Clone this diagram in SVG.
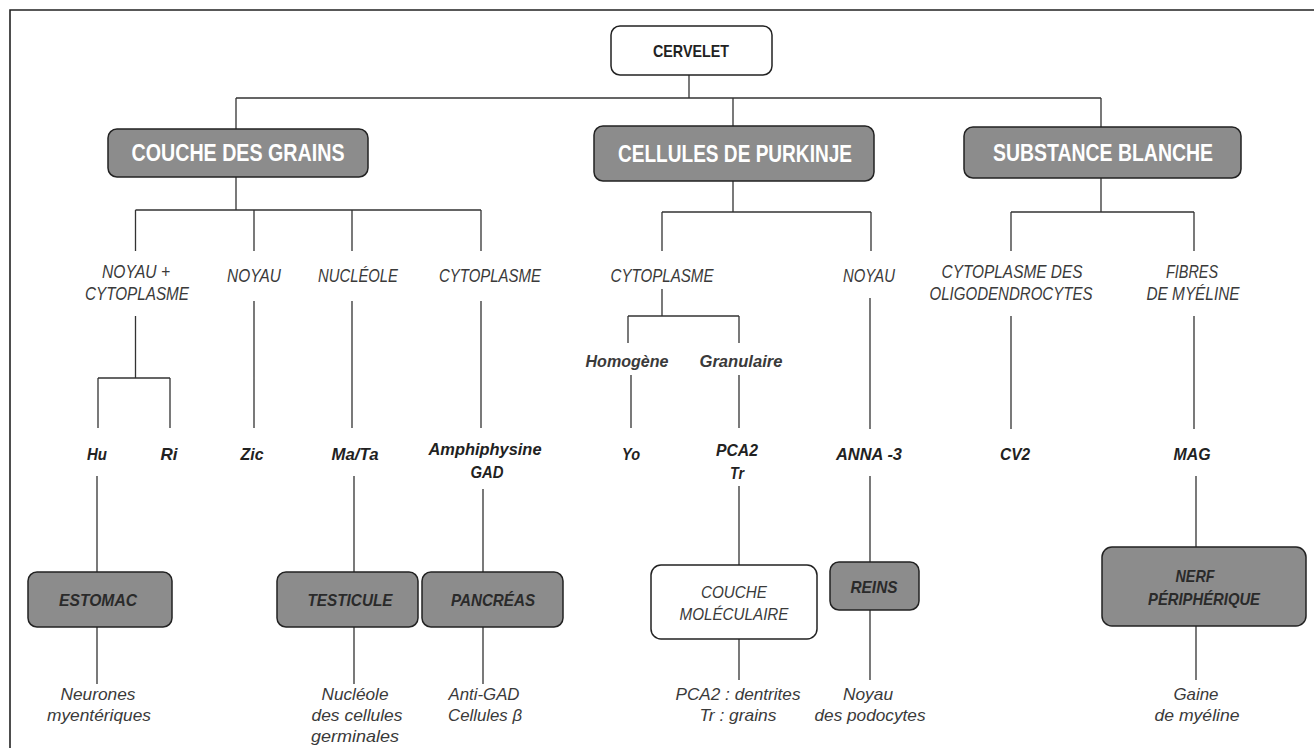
<svg xmlns="http://www.w3.org/2000/svg" width="1314" height="748" viewBox="0 0 1314 748">
<style>
text{font-family:"Liberation Sans",Arial,sans-serif;text-anchor:middle}
.frame{stroke:#222;stroke-width:1.6;fill:none}
.conn path{stroke:#333;stroke-width:1.3;fill:none}
.bw{fill:#fff;stroke:#222;stroke-width:1.5}
.bg{fill:#8c8c8c;stroke:#222;stroke-width:1.5}
.hdr{font-weight:bold;fill:#fff;font-size:23px}
.root{font-weight:bold;fill:#222;font-size:17px}
.lab{font-style:italic;fill:#3a3a3a;font-size:18px}
.ab{font-style:italic;font-weight:bold;fill:#222;font-size:17px}
.sub{font-style:italic;font-weight:bold;fill:#3a3a3a;font-size:17px}
.org{font-style:italic;font-weight:bold;fill:#2a2a2a;font-size:17px}
.inw{font-style:italic;fill:#3a3a3a;font-size:17px}
.fin{font-style:italic;fill:#3a3a3a;font-size:17px}
</style>
<path class="frame" d="M10 748 V10 H1314"/>
<g class="conn">
<path d="M689 75 V98 M236 98 H1101 M236 98 V129 M733 98 V126 M1101 98 V127"/>
<path d="M236 177 V210 M135.5 210 H481 M135.5 210 V251 M254 210 V251 M352 210 V251 M481 210 V251"/>
<path d="M135.5 316 V378 M98 378 H170 M98 378 V428 M170 378 V428 M254 301 V428 M352 301 V428 M481 301 V428"/>
<path d="M733 181 V212 M662 212 H871 M662 212 V251 M871 212 V251"/>
<path d="M662 289 V316 M628 316 H739 M628 316 V343 M739 316 V343 M631 375 V428 M739 375 V428 M870 298 V429"/>
<path d="M1101 178 V212 M1011 212 H1194 M1011 212 V251 M1194 212 V251 M1011 316 V429 M1194 316 V429"/>
<path d="M97 476 V572 M354 476 V572 M483 489 V572 M739 486 V565 M870 476 V562 M1196 476 V547"/>
<path d="M97 627 V684 M354 627 V684 M483 627 V684 M739 639 V680 M870 610 V680 M1196 626 V680"/>
</g>
<g id="cervelet"><rect class="bw" x="611" y="26" width="161" height="49" rx="9"/><text class="root" x="691" y="57" textLength="76" lengthAdjust="spacingAndGlyphs">CERVELET</text></g>
<g id="couche-grains"><rect class="bg" x="108" y="129" width="260" height="48" rx="9"/><text class="hdr" x="238" y="161" textLength="213" lengthAdjust="spacingAndGlyphs">COUCHE DES GRAINS</text></g>
<g id="purkinje"><rect class="bg" x="594" y="126" width="280" height="55" rx="9"/><text class="hdr" x="735" y="162" textLength="234" lengthAdjust="spacingAndGlyphs">CELLULES DE PURKINJE</text></g>
<g id="substance-blanche"><rect class="bg" x="964" y="127" width="277" height="51" rx="9"/><text class="hdr" x="1103" y="161" textLength="220" lengthAdjust="spacingAndGlyphs">SUBSTANCE BLANCHE</text></g>
<g id="noyau-cyto"><text class="lab" x="136" y="278" textLength="68" lengthAdjust="spacingAndGlyphs">NOYAU +</text><text class="lab" x="137" y="300" textLength="104" lengthAdjust="spacingAndGlyphs">CYTOPLASME</text></g>
<g id="noyau-g"><text class="lab" x="254" y="282" textLength="54" lengthAdjust="spacingAndGlyphs">NOYAU</text></g>
<g id="nucleole"><text class="lab" x="358" y="282" textLength="80" lengthAdjust="spacingAndGlyphs">NUCLÉOLE</text></g>
<g id="cyto-g"><text class="lab" x="490" y="282" textLength="102" lengthAdjust="spacingAndGlyphs">CYTOPLASME</text></g>
<g id="cyto-p"><text class="lab" x="662" y="282" textLength="103" lengthAdjust="spacingAndGlyphs">CYTOPLASME</text></g>
<g id="noyau-p"><text class="lab" x="869" y="282" textLength="52" lengthAdjust="spacingAndGlyphs">NOYAU</text></g>
<g id="cyto-oligo"><text class="lab" x="1012" y="278" textLength="141" lengthAdjust="spacingAndGlyphs">CYTOPLASME DES</text><text class="lab" x="1011" y="300" textLength="163" lengthAdjust="spacingAndGlyphs">OLIGODENDROCYTES</text></g>
<g id="fibres"><text class="lab" x="1192" y="278" textLength="52" lengthAdjust="spacingAndGlyphs">FIBRES</text><text class="lab" x="1193" y="300" textLength="93" lengthAdjust="spacingAndGlyphs">DE MYÉLINE</text></g>
<g id="homogene"><text class="sub" x="627" y="367" textLength="83" lengthAdjust="spacingAndGlyphs">Homogène</text></g>
<g id="granulaire"><text class="sub" x="741" y="367" textLength="83" lengthAdjust="spacingAndGlyphs">Granulaire</text></g>
<g id="hu"><text class="ab" x="97" y="460" textLength="20" lengthAdjust="spacingAndGlyphs">Hu</text></g>
<g id="ri"><text class="ab" x="169" y="460" textLength="17" lengthAdjust="spacingAndGlyphs">Ri</text></g>
<g id="zic"><text class="ab" x="252" y="460" textLength="23" lengthAdjust="spacingAndGlyphs">Zic</text></g>
<g id="mata"><text class="ab" x="355" y="460" textLength="47" lengthAdjust="spacingAndGlyphs">Ma/Ta</text></g>
<g id="amph"><text class="ab" x="485" y="455" textLength="113" lengthAdjust="spacingAndGlyphs">Amphiphysine</text><text class="ab" x="487" y="478" textLength="33" lengthAdjust="spacingAndGlyphs">GAD</text></g>
<g id="yo"><text class="ab" x="631" y="460" textLength="18" lengthAdjust="spacingAndGlyphs">Yo</text></g>
<g id="pca2"><text class="ab" x="737" y="456" textLength="42" lengthAdjust="spacingAndGlyphs">PCA2</text><text class="ab" x="737" y="479" textLength="14" lengthAdjust="spacingAndGlyphs">Tr</text></g>
<g id="anna"><text class="ab" x="869" y="460" textLength="66" lengthAdjust="spacingAndGlyphs">ANNA -3</text></g>
<g id="cv2"><text class="ab" x="1015" y="460" textLength="30" lengthAdjust="spacingAndGlyphs">CV2</text></g>
<g id="mag"><text class="ab" x="1192" y="460" textLength="37" lengthAdjust="spacingAndGlyphs">MAG</text></g>
<g id="estomac"><rect class="bg" x="28" y="572" width="144" height="55" rx="9"/><text class="org" x="98" y="606" textLength="78" lengthAdjust="spacingAndGlyphs">ESTOMAC</text></g>
<g id="testicule"><rect class="bg" x="277" y="572" width="141" height="55" rx="9"/><text class="org" x="350" y="606" textLength="85" lengthAdjust="spacingAndGlyphs">TESTICULE</text></g>
<g id="pancreas"><rect class="bg" x="422" y="572" width="141" height="55" rx="9"/><text class="org" x="493" y="606" textLength="84" lengthAdjust="spacingAndGlyphs">PANCRÉAS</text></g>
<g id="couche-mol"><rect class="bw" x="651" y="565" width="166" height="74" rx="10"/><text class="inw" x="734" y="598" textLength="66" lengthAdjust="spacingAndGlyphs">COUCHE</text><text class="inw" x="734" y="620" textLength="109" lengthAdjust="spacingAndGlyphs">MOLÉCULAIRE</text></g>
<g id="reins"><rect class="bg" x="830" y="562" width="89" height="48" rx="9"/><text class="org" x="874" y="593" textLength="47" lengthAdjust="spacingAndGlyphs">REINS</text></g>
<g id="nerf"><rect class="bg" x="1102" y="547" width="204" height="79" rx="10"/><text class="org" x="1195" y="582" textLength="39" lengthAdjust="spacingAndGlyphs">NERF</text><text class="org" x="1204" y="605" textLength="112" lengthAdjust="spacingAndGlyphs">PÉRIPHÉRIQUE</text></g>
<g id="neurones"><text class="fin" x="98" y="700" textLength="75" lengthAdjust="spacingAndGlyphs">Neurones</text><text class="fin" x="99" y="721" textLength="104" lengthAdjust="spacingAndGlyphs">myentériques</text></g>
<g id="nucleole-germ"><text class="fin" x="355" y="700" textLength="67" lengthAdjust="spacingAndGlyphs">Nucléole</text><text class="fin" x="357" y="721" textLength="91" lengthAdjust="spacingAndGlyphs">des cellules</text><text class="fin" x="355" y="742" textLength="88" lengthAdjust="spacingAndGlyphs">germinales</text></g>
<g id="antigad"><text class="fin" x="484" y="700" textLength="71" lengthAdjust="spacingAndGlyphs">Anti-GAD</text><text class="fin" x="485" y="721" textLength="74" lengthAdjust="spacingAndGlyphs">Cellules β</text></g>
<g id="dentrites"><text class="fin" x="738" y="700" textLength="125" lengthAdjust="spacingAndGlyphs">PCA2 : dentrites</text><text class="fin" x="738" y="721" textLength="77" lengthAdjust="spacingAndGlyphs">Tr : grains</text></g>
<g id="podocytes"><text class="fin" x="868" y="700" textLength="50" lengthAdjust="spacingAndGlyphs">Noyau</text><text class="fin" x="870" y="721" textLength="111" lengthAdjust="spacingAndGlyphs">des podocytes</text></g>
<g id="gaine"><text class="fin" x="1196" y="700" textLength="45" lengthAdjust="spacingAndGlyphs">Gaine</text><text class="fin" x="1197" y="721" textLength="85" lengthAdjust="spacingAndGlyphs">de myéline</text></g>
</svg>
